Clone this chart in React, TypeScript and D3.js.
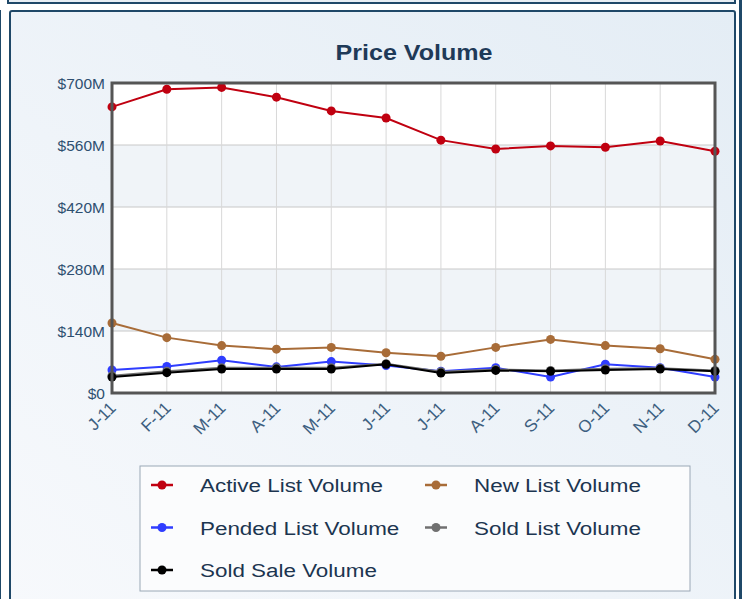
import React, { useRef, useEffect } from "react";
import { select, scaleLinear, scalePoint, line } from "d3";

const months = ["J-11", "F-11", "M-11", "A-11", "M-11", "J-11", "J-11", "A-11", "S-11", "O-11", "N-11", "D-11"];
const yTicks = [0, 140, 280, 420, 560, 700];

// values in $M
const activeList = [646, 686, 690, 668, 637, 621, 571, 551, 558, 555, 569, 546];
const newList = [158, 125, 107, 99, 103, 91, 83, 103, 121, 107, 100, 76];
const pendedList = [52, 60, 74, 59, 71, 62, 49, 57, 36, 65, 57, 36];
const soldList = [39, 49, 57, 57, 57, 66, 48, 53, 51, 55, 56, 51];
const soldSale = [36, 46, 54, 54, 54, 65, 45, 51, 49, 52, 54, 49];

const seriesNames = ["Active List Volume", "New List Volume", "Pended List Volume", "Sold List Volume", "Sold Sale Volume"];
const seriesColors = ["#c00010", "#a86c38", "#2f3dff", "#707070", "#000000"];

const FONT = "Liberation Sans, Arial, sans-serif";

const App: React.FC = () => {
  const ref = useRef<SVGSVGElement>(null);

  useEffect(() => {
    const svg = select(ref.current);
    svg.selectAll("*").remove();

    const defs = svg.append("defs");
    const grad = defs.append("linearGradient").attr("id", "panelBg")
      .attr("x1", "0").attr("y1", "1").attr("x2", "1").attr("y2", "0");
    grad.append("stop").attr("offset", "0").attr("stop-color", "#f7f9fc");
    grad.append("stop").attr("offset", "1").attr("stop-color", "#e4edf5");

    // surrounding panels
    svg.append("rect").attr("x", 0).attr("y", 0).attr("width", 742).attr("height", 599).attr("fill", "#ffffff");
    svg.append("rect").attr("x", 8).attr("y", -10).attr("width", 727).attr("height", 13)
      .attr("fill", "#e8eef4").attr("stroke", "#1f4868").attr("stroke-width", 2);
    svg.append("rect").attr("x", -4).attr("y", 10).attr("width", 5).attr("height", 600).attr("fill", "#1f4868");
    svg.append("rect").attr("x", 739).attr("y", 0).attr("width", 5).attr("height", 600).attr("fill", "#1f4868");
    svg.append("rect").attr("x", 10).attr("y", 11).attr("width", 725).attr("height", 600)
      .attr("rx", 2).attr("fill", "url(#panelBg)").attr("stroke", "#1f4868").attr("stroke-width", 2);

    const margin = { top: 83, left: 112, right: 27, bottom: 206 };
    const innerW = 742 - margin.left - margin.right;
    const innerH = 599 - margin.top - margin.bottom;

    const x = scalePoint<number>().domain(months.map((_, i) => i)).range([0, innerW]);
    const y = scaleLinear().domain([0, 700]).range([innerH, 0]);

    svg.append("text").attr("transform", "translate(414,60) scale(1.14,1)").attr("text-anchor", "middle")
      .attr("font-family", FONT).attr("font-weight", "bold")
      .attr("font-size", 22).attr("fill", "#1f3a58").text("Price Volume");

    const g = svg.append("g").attr("transform", `translate(${margin.left},${margin.top})`);

    // alternating bands
    for (let i = 0; i < yTicks.length - 1; i++) {
      g.append("rect").attr("x", 0).attr("y", y(yTicks[i + 1])).attr("width", innerW)
        .attr("height", y(yTicks[i]) - y(yTicks[i + 1]))
        .attr("fill", i % 2 === 0 ? "#ffffff" : "#f0f4f8");
    }

    g.selectAll(".hgrid").data(yTicks).enter().append("line")
      .attr("x1", 0).attr("x2", innerW).attr("y1", (d) => y(d)).attr("y2", (d) => y(d))
      .attr("stroke", "#c8c8c8").attr("stroke-width", 1);
    g.selectAll(".vgrid").data(months.map((_, i) => i)).enter().append("line")
      .attr("x1", (d) => x(d)!).attr("x2", (d) => x(d)!).attr("y1", 0).attr("y2", innerH)
      .attr("stroke", "#d8d8d8").attr("stroke-width", 1);

    g.selectAll(".ylab").data(yTicks).enter().append("text")
      .attr("x", -7).attr("y", (d) => y(d) + 6).attr("text-anchor", "end")
      .attr("font-family", FONT).attr("font-size", 15.5)
      .attr("fill", "#2e4f70").text((d) => (d === 0 ? "$0" : `$${d}M`));

    g.selectAll(".xlab").data(months).enter().append("text")
      .attr("transform", (_, i) => `translate(${x(i)! + 5},${innerH + 16}) rotate(-45)`)
      .attr("text-anchor", "end")
      .attr("font-family", FONT).attr("font-size", 17)
      .attr("fill", "#3d5f80").text((d) => d);

    const data = [activeList, newList, pendedList, soldList, soldSale];
    const ln = line<number>().x((_, i) => x(i)!).y((d) => y(d));
    data.forEach((vals, si) => {
      g.append("path").attr("d", ln(vals)).attr("fill", "none")
        .attr("stroke", seriesColors[si]).attr("stroke-width", 2);
      g.selectAll(`.pt${si}`).data(vals).enter().append("circle")
        .attr("cx", (_, i) => x(i)!).attr("cy", (d) => y(d)).attr("r", 4.5)
        .attr("fill", seriesColors[si]);
    });

    g.append("rect").attr("x", 0).attr("y", 0).attr("width", innerW).attr("height", innerH)
      .attr("fill", "none").attr("stroke", "#555555").attr("stroke-width", 3);

    // legend
    const lg = svg.append("g");
    lg.append("rect").attr("x", 140).attr("y", 466).attr("width", 550).attr("height", 125)
      .attr("fill", "#fbfcfd").attr("stroke", "#9aa8b6").attr("stroke-width", 1);
    seriesNames.forEach((name, i) => {
      const cx = i % 2 === 0 ? 162 : 436;
      const cy = 485 + Math.floor(i / 2) * 42.5;
      lg.append("line").attr("x1", cx - 11).attr("x2", cx + 11).attr("y1", cy).attr("y2", cy)
        .attr("stroke", seriesColors[i]).attr("stroke-width", 2.5);
      lg.append("circle").attr("cx", cx).attr("cy", cy).attr("r", 4.5).attr("fill", seriesColors[i]);
      lg.append("text").attr("transform", `translate(${cx + 38},${cy + 7}) scale(1.18,1)`)
        .attr("font-family", FONT).attr("font-size", 19)
        .attr("fill", "#1c3550").text(name);
    });
  }, []);

  return (
    <svg ref={ref} width={742} height={599}
      style={{ position: "absolute", left: 0, top: 0, display: "block" }} />
  );
};

export default App;
